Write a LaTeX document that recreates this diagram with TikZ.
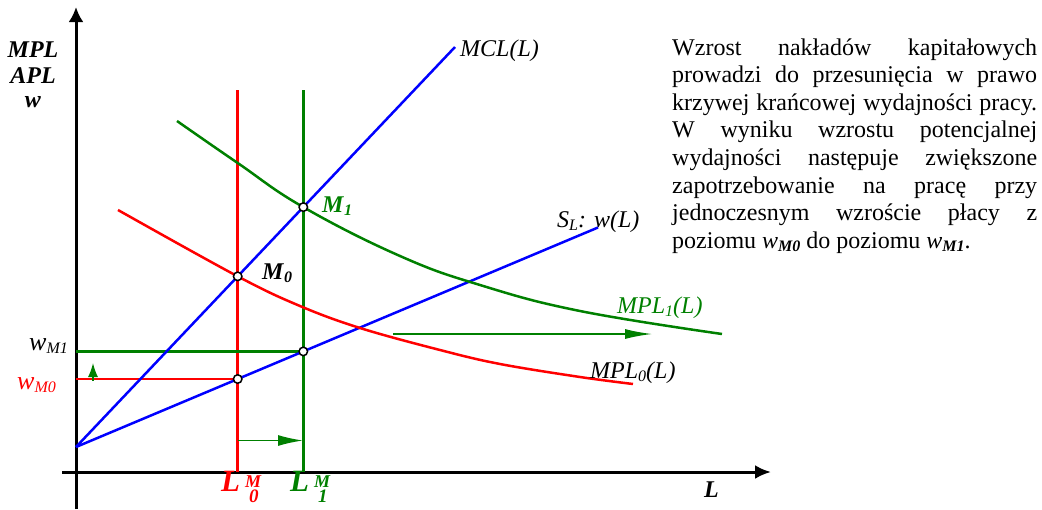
\documentclass[tikz,border=0pt]{standalone}
\usepackage{fontspec}
\setmainfont{Liberation Serif}
\usetikzlibrary{arrows.meta,calc}
\definecolor{cred}{RGB}{255,0,0}
\definecolor{cgreen}{RGB}{0,128,0}
\definecolor{cblue}{RGB}{0,0,255}
\newcommand{\lo}[1]{\raisebox{-0.3ex}{\fontsize{16}{16}\selectfont #1}}
\newcommand{\Lsup}[1]{\textbf{\textit{\fontsize{31}{31}\selectfont L\hspace{5pt}\raisebox{4pt}{\rlap{\fontsize{18}{18}\selectfont M}}\hspace{4pt}\raisebox{-11pt}{\fontsize{19}{19}\selectfont #1}}}}
\newcommand{\jline}[1]{\makebox[365pt][s]{#1}}
\begin{document}
\begin{tikzpicture}[x=1pt,y=-1pt,
  axis/.style={line width=3pt,black},
  curve/.style={line width=2.5pt},
  pt/.style={circle,draw=black,fill=white,line width=1.5pt,minimum size=8.5pt,inner sep=0pt},
  lbl/.style={font=\fontsize{24}{28}\selectfont,inner sep=0pt,anchor=base west},
  txt/.style={font=\fontsize{24}{27.6}\selectfont,inner sep=0pt,anchor=base west},
  shiftarrow/.style={line width=1.5pt,cgreen}]
\useasboundingbox (0,0) rectangle (1042,509);

% coordinates
\coordinate (O) at (76,472);
\coordinate (yb) at (76,509);
\coordinate (yt) at (76,7);
\coordinate (xl) at (62,472);
\coordinate (xr) at (771,472);
\coordinate (A) at (76,447);
\coordinate (mclEnd) at (455,47);
\coordinate (slEnd) at (598,227.5);
\coordinate (r0top) at (237.7,90);
\coordinate (r0bot) at (237.7,472);
\coordinate (g1top) at (303.3,90);
\coordinate (g1bot) at (303.3,472);
\coordinate (M0c) at ($(A)!{(237.7-76)/(455-76)}!(mclEnd)$);
\coordinate (M1c) at ($(A)!{(303.3-76)/(455-76)}!(mclEnd)$);
\coordinate (P0c) at ($(A)!{(237.7-76)/(598-76)}!(slEnd)$);
\coordinate (P1c) at ($(A)!{(303.3-76)/(598-76)}!(slEnd)$);

% axes
\draw[axis,-{Latex[length=15pt,width=15pt]}] (yb) -- (yt);
\draw[axis,-{Latex[length=16pt,width=14pt]}] (xl) -- (xr);

% verticals
\draw[curve,cred] (r0top) -- (r0bot);
\draw[curve,cgreen] (g1top) -- (g1bot);

% horizontal wage levels
\draw[curve,cgreen] (O |- P1c) -- (P1c);
\draw[curve,cred] (O |- P0c) -- (P0c);

% blue lines
\draw[curve,cblue] (A) -- (mclEnd);
\draw[curve,cblue] (A) -- (slEnd);

% MPL curves
\draw[curve,cred] plot[smooth,tension=0.6] coordinates {(118,210) (M0c) (300,306) (360,328) (440,350) (500,364) (580,377) (633,384)};
\draw[curve,cgreen] plot[smooth,tension=0.7] coordinates {(177,121) (237.7,163) (M1c) (400,256) (480,285) (580,311) (722,334)};

% shift arrows
\coordinate (ua1) at (93,381);
\coordinate (ua2) at (93,363);
\draw[shiftarrow,-{Latex[length=14pt,width=10pt]}] (ua1) -- (ua2);
\coordinate (ra1) at (237.7,440.5);
\coordinate (ra2) at (303,440.5);
\draw[shiftarrow,-{Latex[length=25pt,width=11pt]}] (ra1) -- (ra2);
\coordinate (ba1) at (393,334);
\coordinate (ba2) at (652,334);
\draw[shiftarrow,-{Latex[length=27pt,width=10pt]}] (ba1) -- (ba2);

% points
\node[pt] (M0) at (M0c) {};
\node[pt] (M1) at (M1c) {};
\node[pt] (P0) at (P0c) {};
\node[pt] (P1) at (P1c) {};

% axis labels
\node[lbl,anchor=base] (ax1) at (33,57) {\textbf{\textit{MPL}}};
\node[lbl,anchor=base] (ax2) at (33,83) {\textbf{\textit{APL}}};
\node[lbl,anchor=base] (ax3) at (33,107) {\textbf{\textit{w}}};
\node[lbl] (xlab) at (704,497) {\textbf{\textit{L}}};

% curve labels
\node[lbl] (mcl) at (460,56) {\textit{MCL(L)}};
\node[lbl] (sl) at (557,227) {\textit{S}\lo{\textit{L}}\textit{: w(L)}};
\node[lbl,text=cgreen] (mpl1) at (617,313) {\textit{MPL}\lo{\textit{1}}\textit{(L)}};
\node[lbl] (mpl0) at (590,378) {\textit{MPL}\lo{\textit{0}}\textit{(L)}};
\node[lbl,text=cgreen] (m1lab) at (322,212) {\textbf{\textit{M}}\lo{\textbf{\textit{1}}}};
\node[lbl] (m0lab) at (262,279) {\textbf{\textit{M}}\lo{\textbf{\textit{0}}}};
\node[lbl] (wm1) at (29,350) {\fontsize{26}{28}\selectfont\textit{w}\lo{\textit{M1}}};
\node[lbl,text=cred] (wm0) at (17,389) {\fontsize{26}{28}\selectfont\textit{w}\lo{\textit{M0}}};
\node[lbl,text=cred] (l0lab) at (221,491) {\Lsup{0}};
\node[lbl,text=cgreen] (l1lab) at (290,491) {\Lsup{1}};

% text block
\node[txt] (t1) at (672,55) {\jline{Wzrost nakładów kapitałowych}};
\node[txt] (t2) at (672,82.6) {\jline{prowadzi do przesunięcia w prawo}};
\node[txt] (t3) at (672,110.2) {\jline{krzywej krańcowej wydajności pracy.}};
\node[txt] (t4) at (672,137.8) {\jline{W wyniku wzrostu potencjalnej}};
\node[txt] (t5) at (672,165.4) {\jline{wydajności następuje zwiększone}};
\node[txt] (t6) at (672,193) {\jline{zapotrzebowanie na pracę przy}};
\node[txt] (t7) at (672,220.6) {\jline{jednoczesnym wzroście płacy z}};
\node[txt] (t8) at (672,248.2) {poziomu \textit{w}\lo{\textbf{\textit{M0}}} do poziomu \textit{w}\lo{\textbf{\textit{M1}}}.};
\end{tikzpicture}
\end{document}
